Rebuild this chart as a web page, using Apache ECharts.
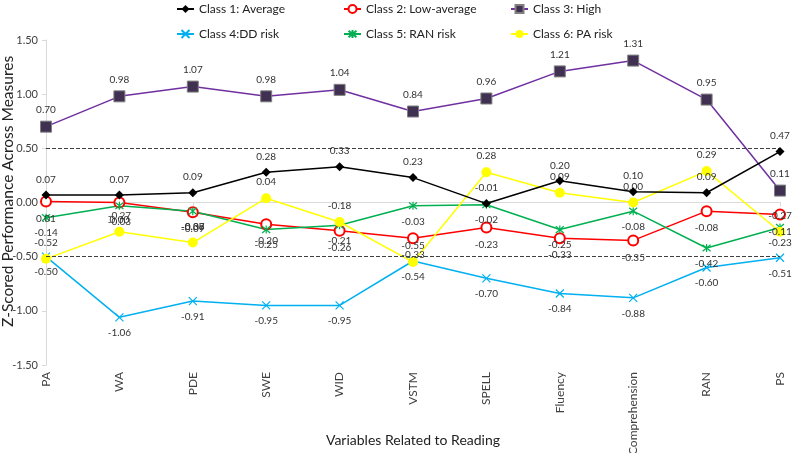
<!DOCTYPE html>
<html>
	<head>
		<meta charset="utf-8">
		<title>Reading profiles</title>
		<script src="https://cdn.jsdelivr.net/npm/echarts@6/dist/echarts.min.js"></script>
		<style>
			* { margin: 0; padding: 0; }
			body { background: #fff; }
			#main { width: 800px; height: 453px; }
		</style>
	</head>
	<body>
		<div id="main"></div>
	</body>
	<script type="text/javascript">
		// categories on the x axis
		var categories = ['PA', 'WA', 'PDE', 'SWE', 'WID', 'VSTM', 'SPELL', 'Fluency', 'Comprehension', 'RAN', 'PS'];
		// y axis ticks
		var yTicks = [-1.5, -1.0, -0.5, 0, 0.5, 1.0, 1.5];

		// z-scores per latent class
		var class1 = [0.07, 0.07, 0.09, 0.28, 0.33, 0.23, -0.01, 0.20, 0.10, 0.09, 0.47];
		var class2 = [0.01, 0.00, -0.09, -0.20, -0.26, -0.33, -0.23, -0.33, -0.35, -0.08, -0.11];
		var class3 = [0.70, 0.98, 1.07, 0.98, 1.04, 0.84, 0.96, 1.21, 1.31, 0.95, 0.11];
		var class4 = [-0.50, -1.06, -0.91, -0.95, -0.95, -0.54, -0.70, -0.84, -0.88, -0.60, -0.51];
		var class5 = [-0.14, -0.03, -0.08, -0.25, -0.21, -0.03, -0.02, -0.25, -0.08, -0.42, -0.23];
		var class6 = [-0.52, -0.27, -0.37, 0.04, -0.18, -0.55, 0.28, 0.09, 0.00, 0.29, -0.27];

		// reference lines
		var cutoffs = [0.5, -0.5];

		var names = ['Class 1: Average', 'Class 2: Low-average', 'Class 3: High',
			'Class 4:DD risk', 'Class 5: RAN risk', 'Class 6: PA risk'];

		var fontName = 'Lato';
		var txt = '#404040';
		var xPath = 'path://M0,0L10,10M10,0L0,10';
		var starPath = 'path://M0,0L10,10M10,0L0,10M5,-1L5,11';

		function lbl(pos) {
			return {
				show: true,
				position: pos,
				distance: 6,
				fontSize: 10,
				fontFamily: fontName,
				color: '#333',
				formatter: function (p) { return p.value.toFixed(2); }
			};
		}

		var myChart = echarts.init(document.getElementById('main'));

		var legendBase = {
			orient: 'vertical',
			top: -2,
			itemGap: 13,
			itemWidth: 17,
			itemHeight: 10,
			textStyle: { fontSize: 12, fontFamily: fontName, color: '#222' }
		};

		var option = {
			animation: false,
			backgroundColor: '#fff',
			legend: [
				Object.assign({ left: 171, data: [names[0], names[3]] }, legendBase),
				Object.assign({ left: 338, data: [names[1], names[4]] }, legendBase),
				Object.assign({ left: 505, data: [names[2], names[5]] }, legendBase)
			],
			grid: { left: 46, right: 20, top: 40, bottom: 88, outerBoundsMode: 'none' },
			xAxis: [
				{
					type: 'category',
					data: categories,
					boundaryGap: false,
					position: 'bottom',
					axisLine: { show: false, onZero: false },
					axisTick: { show: false },
					axisLabel: { rotate: 90, margin: 7, fontSize: 12, fontFamily: fontName, color: txt },
					name: 'Variables Related to Reading',
					nameLocation: 'middle',
					nameGap: 68,
					nameMoveOverlap: false,
					nameTextStyle: { fontSize: 14, fontFamily: fontName, color: '#222' }
				},
				{
					type: 'category',
					data: categories,
					boundaryGap: false,
					position: 'bottom',
					axisLine: { show: true, onZero: true, lineStyle: { color: '#d9d9d9' } },
					axisTick: { show: true, length: 4, lineStyle: { color: '#d9d9d9' } },
					axisLabel: { show: false }
				}
			],
			yAxis: {
				type: 'value',
				min: yTicks[0],
				max: yTicks[yTicks.length - 1],
				interval: 0.5,
				splitLine: { show: false },
				axisLine: { show: true, lineStyle: { color: '#d9d9d9' } },
				axisTick: { show: true, length: 4, lineStyle: { color: '#d9d9d9' } },
				axisLabel: {
					fontSize: 11, fontFamily: fontName, color: txt, margin: 8,
					formatter: function (v) { return v.toFixed(2); }
				},
				name: 'Z-Scored Performance Across Measures',
				nameLocation: 'middle',
				nameGap: 30,
				nameMoveOverlap: false,
				nameTextStyle: { fontSize: 15.5, fontFamily: fontName, color: '#222', padding: [0, 0, 0, 22] }
			},
			series: [
				{
					name: names[0], type: 'line', data: class1,
					symbol: 'diamond', symbolSize: 9,
					itemStyle: { color: '#000' },
					lineStyle: { color: '#000', width: 1.5 },
					label: lbl('top'), z: 6
				},
				{
					name: names[1], type: 'line', data: class2,
					symbol: 'emptyCircle', symbolSize: 10,
					itemStyle: { color: '#ff0000', borderWidth: 1 },
					lineStyle: { color: '#ff0000', width: 1.5 },
					label: lbl('bottom')
				},
				{
					name: names[2], type: 'line', data: class3,
					symbol: 'rect', symbolSize: 11,
					itemStyle: { color: '#403152', borderColor: '#7f7f7f', borderWidth: 1 },
					lineStyle: { color: '#7030a0', width: 1.5 },
					label: lbl('top')
				},
				{
					name: names[3], type: 'line', data: class4,
					symbol: xPath, symbolSize: 8,
					itemStyle: { color: '#00b0f0', borderColor: '#00b0f0', borderWidth: 1.2 },
					lineStyle: { color: '#00b0f0', width: 1.5 },
					label: lbl('bottom'),
					markLine: {
						silent: true,
						symbol: 'none',
						label: { show: false },
						lineStyle: { color: '#404040', type: 'dashed', width: 1 },
						data: cutoffs.map(function (c) { return { yAxis: c }; })
					}
				},
				{
					name: names[4], type: 'line', data: class5,
					symbol: starPath, symbolSize: 8,
					itemStyle: { color: '#00b050', borderColor: '#00b050', borderWidth: 1.2 },
					lineStyle: { color: '#00b050', width: 1.5 },
					label: lbl('bottom')
				},
				{
					name: names[5], type: 'line', data: class6,
					symbol: 'circle', symbolSize: 10,
					itemStyle: { color: '#ffff00' },
					lineStyle: { color: '#ffff00', width: 1.5 },
					label: lbl('top')
				}
			]
		};
		myChart.setOption(option);
	</script>
</html>
